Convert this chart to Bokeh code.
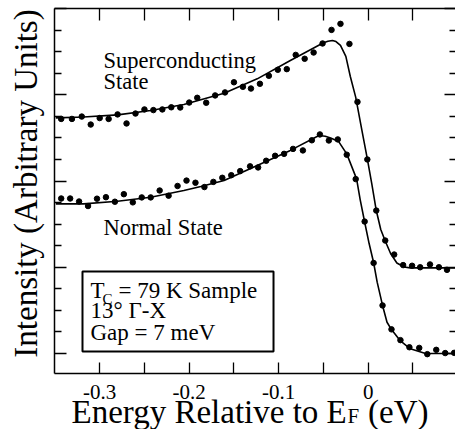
import math
from bokeh.plotting import figure
from bokeh.models import Range1d, LinearAxis, FixedTicker, Label, BoxAnnotation
from bokeh.embed import file_html
from bokeh.resources import INLINE

# ---------------- data ----------------
# Superconducting state: measured points
sc_energy = [-0.343, -0.331, -0.320, -0.310, -0.300, -0.290, -0.280, -0.270, -0.260, -0.250,
             -0.240, -0.230, -0.220, -0.210, -0.200, -0.191, -0.181, -0.171, -0.160, -0.150,
             -0.140, -0.131, -0.121, -0.111, -0.101, -0.091, -0.081, -0.071, -0.061, -0.051,
             -0.041, -0.031, -0.021, -0.012, -0.001, 0.009, 0.019, 0.029, 0.039, 0.049,
             0.058, 0.069, 0.079, 0.088]
sc_intensity = [10.88, 10.88, 10.99, 10.62, 10.92, 10.88, 11.09, 10.67, 11.13, 11.32,
                11.29, 11.32, 11.42, 11.41, 11.64, 11.86, 11.63, 11.97, 12.11, 12.58,
                12.37, 12.29, 12.51, 12.88, 13.16, 13.19, 13.85, 13.67, 13.96, 14.38,
                15.01, 15.29, 14.36, 11.67, 9.00, 6.63, 5.24, 4.59, 4.10, 4.07,
                4.00, 4.13, 4.00, 3.88]
# Superconducting state: fitted curve
sc_fit_energy = [-0.349, -0.318, -0.280, -0.243, -0.206, -0.161, -0.124, -0.087, -0.050, -0.045,
                 -0.040, -0.036, -0.031, -0.025, -0.020, -0.014, -0.007, -0.001, 0.004, 0.009,
                 0.014, 0.019, 0.025, 0.032, 0.040, 0.047, 0.0975]
sc_fit_intensity = [10.93, 10.97, 11.07, 11.27, 11.55, 12.07, 12.74, 13.59, 14.41, 14.48,
                    14.52, 14.47, 14.29, 13.78, 12.85, 11.89, 10.34, 9.03, 7.87, 6.63,
                    5.75, 5.22, 4.64, 4.20, 4.01, 3.97, 3.97]

# Normal state: measured points
ns_energy = [-0.343, -0.333, -0.323, -0.313, -0.303, -0.293, -0.283, -0.273, -0.263, -0.253,
             -0.243, -0.233, -0.223, -0.213, -0.203, -0.193, -0.183, -0.173, -0.163, -0.153,
             -0.143, -0.132, -0.123, -0.114, -0.104, -0.094, -0.084, -0.073, -0.063, -0.054,
             -0.044, -0.034, -0.024, -0.014, -0.004, 0.006, 0.016, 0.026, 0.036, 0.046,
             0.057, 0.066, 0.076, 0.086, 0.096]
ns_intensity = [7.19, 7.19, 7.05, 6.84, 7.18, 7.25, 7.04, 7.39, 7.01, 7.24,
                7.24, 7.56, 7.32, 7.77, 8.02, 7.92, 7.72, 7.96, 8.15, 8.27,
                8.46, 8.68, 8.63, 8.94, 9.17, 9.26, 9.49, 9.42, 9.89, 10.16,
                9.88, 9.93, 9.22, 8.09, 6.12, 4.20, 2.23, 1.12, 0.62, 0.29,
                0.26, -0.03, 0.17, 0.02, 0.03]
# Normal state: fitted curve
ns_fit_energy = [-0.349, -0.318, -0.280, -0.243, -0.206, -0.187, -0.161, -0.124, -0.087, -0.055,
                 -0.048, -0.042, -0.033, -0.024, -0.013, -0.009, -0.004, 0.001, 0.006, 0.010,
                 0.016, 0.021, 0.026, 0.036, 0.047, 0.064, 0.0975]
ns_fit_intensity = [6.94, 6.94, 7.06, 7.25, 7.56, 7.75, 8.02, 8.72, 9.42, 10.11,
                    10.08, 10.00, 9.83, 9.26, 8.10, 7.14, 6.10, 5.10, 4.22, 3.31,
                    2.23, 1.45, 1.11, 0.58, 0.22, 0.00, 0.00]

x_major_ticks = [-0.3, -0.2, -0.1, 0.0]
x_tick_labels = ["-0.3", "-0.2", "-0.1", "0"]
x_minor_ticks = [-0.25, -0.15, -0.05, 0.05]
y_major_ticks = [0, 4, 8, 12, 16]
y_minor_ticks = [1, 2, 3, 5, 6, 7, 9, 10, 11, 13, 14, 15]

# ---------------- layout constants ----------------
FONT = "Liberation Serif"
W, H = 455, 429
X_BOX = (-0.35, 0.0975)      # plot box in data units
Y_BOX = (-0.93, 16.0)
SHIFT = 8                    # labels render this much below the requested baseline

# the frame fills the whole canvas; the axes sit at fixed positions inside it
p = figure(width=W, height=H, output_backend="svg", toolbar_location=None,
           x_range=Range1d(-0.4108, 0.0975), y_range=Range1d(-3.525, 16.373),
           x_axis_type=None, y_axis_type=None,
           min_border_left=0, min_border_right=0, min_border_top=0, min_border_bottom=0)
p.outline_line_color = None
p.background_fill_color = "white"
p.border_fill_color = "white"

common = dict(axis_line_color="black", axis_line_width=1.5,
              major_tick_line_color="black", minor_tick_line_color="black",
              major_tick_line_width=1.3, minor_tick_line_width=1.3,
              major_tick_out=0, minor_tick_out=0,
              major_label_text_font=FONT, major_label_text_color="black")
blank_x = {t: "" for t in x_major_ticks}
blank_y = {t: "" for t in y_major_ticks}

bottom = LinearAxis(ticker=FixedTicker(ticks=x_major_ticks, minor_ticks=x_minor_ticks),
                    fixed_location=Y_BOX[0], bounds=X_BOX,
                    major_label_overrides=dict(zip(x_major_ticks, x_tick_labels)),
                    major_label_text_font_size="21px", major_label_standoff=11,
                    major_tick_in=11, minor_tick_in=11, **common)
top = LinearAxis(ticker=FixedTicker(ticks=x_major_ticks, minor_ticks=x_minor_ticks),
                 fixed_location=Y_BOX[1], bounds=X_BOX,
                 major_label_overrides=blank_x, major_label_text_font_size="10px",
                 major_tick_in=12, minor_tick_in=12, **common)
left = LinearAxis(ticker=FixedTicker(ticks=y_major_ticks, minor_ticks=y_minor_ticks),
                  fixed_location=X_BOX[0], bounds=Y_BOX,
                  major_label_overrides=blank_y, major_label_text_font_size="10px",
                  major_tick_in=12, minor_tick_in=7, **common)
right_common = dict(common)
right_common["axis_line_color"] = None
right = LinearAxis(ticker=FixedTicker(ticks=y_major_ticks, minor_ticks=y_minor_ticks),
                   fixed_location=X_BOX[1], bounds=Y_BOX,
                   major_label_overrides=blank_y, major_label_text_font_size="10px",
                   major_tick_in=11, minor_tick_in=6, **right_common)
p.add_layout(bottom, "below")
p.add_layout(top, "above")
p.add_layout(left, "left")
p.add_layout(right, "right")

# curves and points
p.line(sc_fit_energy, sc_fit_intensity, line_color="black", line_width=1.6)
p.line(ns_fit_energy, ns_fit_intensity, line_color="black", line_width=1.6)
p.scatter(sc_energy, sc_intensity, size=5.5, color="black")
p.scatter(ns_energy, ns_intensity, size=5.5, color="black")

def txt(x, y, s, size, angle=0.0, align="left"):
    # x, y in canvas pixels (baseline): x from the left, y from the top
    if angle:
        x = x - SHIFT
    else:
        y = y - SHIFT
    p.add_layout(Label(x=x, y=H - y, x_units="screen", y_units="screen", text=s, angle=angle,
                       text_font=FONT, text_font_size=size, text_color="black",
                       text_align=align, text_baseline="alphabetic"))

# in-plot annotations
txt(103, 68, "Superconducting", "22.5px")
txt(103, 89, "State", "22.5px")
txt(103, 235, "Normal State", "22.5px")

p.add_layout(BoxAnnotation(left=-0.3192, right=-0.1058, bottom=0.093, top=3.80,
                           fill_color=None, fill_alpha=0, line_color="black",
                           line_alpha=1.0, line_width=2))
txt(90, 298, "T", "23px")
txt(102, 306, "C", "15px")
txt(118, 298, "= 79 K Sample", "23px")
txt(90, 318, "13\u00b0 \u0393-X", "23px")
txt(90, 340, "Gap = 7 meV", "23px")

# axis titles
txt(33, 183, "Intensity (Arbitrary Units)", "33px", angle=math.pi / 2, align="center")
txt(71, 419, "Energy Relative to E", "33px")
txt(347, 423, "F", "21px")
txt(367.5, 419, "(eV)", "33px")

open("out.html", "w").write(file_html(p, INLINE))
